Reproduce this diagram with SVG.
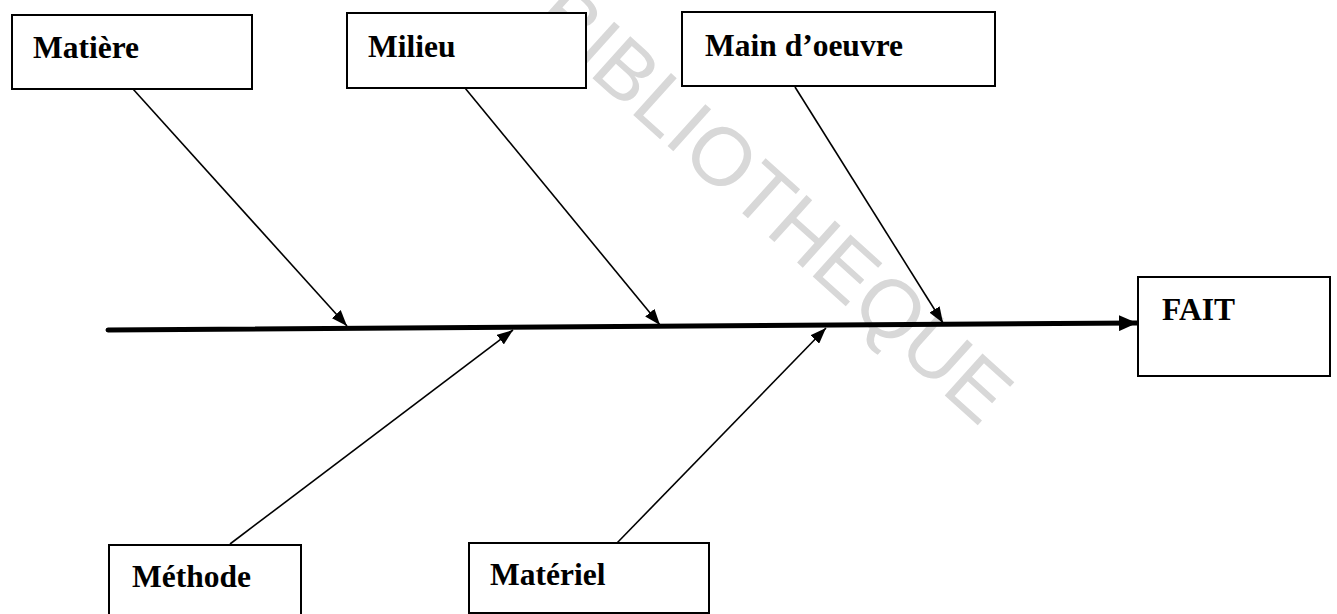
<svg xmlns="http://www.w3.org/2000/svg" width="1337" height="614" viewBox="0 0 1337 614">
  <defs>
    <style>
      .box { fill: #ffffff; stroke: #000000; stroke-width: 2; }
      .label { font-family: "Liberation Serif", "Times New Roman", serif; font-weight: bold; font-size: 31.5px; fill: #000000; }
      .branch { stroke: #000000; stroke-width: 1.6; fill: none; marker-end: url(#head); }
      .spine { stroke: #000000; stroke-width: 5; fill: none; stroke-linecap: round; marker-end: url(#bighead); }
      .stamp { font-family: "Liberation Sans", Arial, sans-serif; font-size: 82px; fill: #d8d8d8; }
    </style>
    <marker id="head" viewBox="0 0 16 12" refX="16" refY="6" markerWidth="16" markerHeight="12" markerUnits="userSpaceOnUse" orient="auto">
      <path d="M0,0 L16,6 L0,12 Z" fill="#000000"/>
    </marker>
    <marker id="bighead" viewBox="0 0 18 16" refX="18" refY="8" markerWidth="18" markerHeight="16" markerUnits="userSpaceOnUse" orient="auto">
      <path d="M0,0 L18,8 L0,16 Z" fill="#000000"/>
    </marker>
  </defs>

  <rect width="1337" height="614" fill="#ffffff"/>

  <!-- diagonal library stamp behind the drawing -->
  <text class="stamp" x="530" y="22" transform="rotate(42 530 22)">BIBLIOTHEQUE</text>

  <!-- spine and cause branches -->
  <g id="connectors">
    <path class="spine" d="M108,330 L1137,323"/>
    <path class="branch" d="M133,89 L347,326"/>
    <path class="branch" d="M465,88 L660,325"/>
    <path class="branch" d="M795,87 L943,323"/>
    <path class="branch" d="M230,544 L513,330"/>
    <path class="branch" d="M617,543 L826,328"/>
  </g>

  <g id="matiere">
    <rect class="box" x="12" y="15" width="240" height="74"/>
    <text class="label" x="33" y="58">Matière</text>
  </g>

  <g id="milieu">
    <rect class="box" x="347" y="13" width="239" height="75"/>
    <text class="label" x="368" y="57">Milieu</text>
  </g>

  <g id="main-oeuvre">
    <rect class="box" x="682" y="12" width="313" height="74"/>
    <text class="label" x="705" y="56">Main d’oeuvre</text>
  </g>

  <g id="fait">
    <rect class="box" x="1138" y="277" width="192" height="99"/>
    <text class="label" x="1162" y="320">FAIT</text>
  </g>

  <g id="methode">
    <rect class="box" x="109" y="545" width="192" height="80"/>
    <text class="label" x="132" y="587">Méthode</text>
  </g>

  <g id="materiel">
    <rect class="box" x="469" y="543" width="240" height="70"/>
    <text class="label" x="490" y="585">Matériel</text>
  </g>
</svg>
